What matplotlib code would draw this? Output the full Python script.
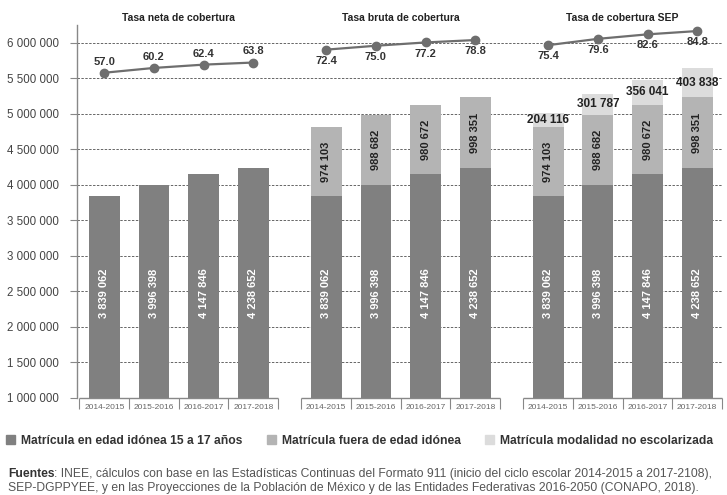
import matplotlib
matplotlib.use("Agg")
import matplotlib.pyplot as plt
import matplotlib.ticker as mticker
from matplotlib.patches import Patch
import numpy as np

plt.rcParams['font.family'] = ['Liberation Sans', 'DejaVu Sans']

# ---- data ----
group_titles = ["Tasa neta de cobertura", "Tasa bruta de cobertura", "Tasa de cobertura SEP"]
years = ["2014-2015", "2015-2016", "2016-2017", "2017-2018"]
idonea = [3839062, 3996398, 4147846, 4238652]
fuera = [974103, 988682, 980672, 998351]
no_escolarizada = [204116, 301787, 356041, 403838]
tasa_neta = [57.0, 60.2, 62.4, 63.8]
tasa_bruta = [72.4, 75.0, 77.2, 78.8]
tasa_sep = [75.4, 79.6, 82.6, 84.8]
legend_labels = ["Matrícula en edad idónea 15 a 17 años",
                 "Matrícula fuera de edad idónea",
                 "Matrícula modalidad no escolarizada"]

c_main = "#808080"
c_fuera = "#b4b4b4"
c_noesc = "#dcdcdc"
c_line = "#6e6e6e"
txt = "#333333"

def fmt(v):
    return f"{v:,}".replace(",", " ")

W, H = 727, 495
fig = plt.figure(figsize=(W / 100, H / 100), dpi=100)
ax_left, ax_right, ax_bot, ax_top = 77, 722, 398, 25.2
ax = fig.add_axes([ax_left / W, 1 - ax_bot / H, (ax_right - ax_left) / W, (ax_bot - ax_top) / H])

goff = 4.47
bw = 0.62
n = len(years)
ymin, ymax = 1_000_000, 6_250_000
ax.set_xlim(-0.55, 12.3)
ax.set_ylim(ymin, ymax)

# gridlines
yt = np.arange(1_000_000, 6_000_001, 500_000)
ax.set_yticks(yt)
ax.yaxis.set_major_formatter(mticker.FuncFormatter(lambda v, p: fmt(int(v))))
for y in yt[1:]:
    ax.axhline(y, color="#666666", lw=0.7, ls=(0, (2.5, 1.5)), zorder=0.5)

rates = [tasa_neta, tasa_bruta, tasa_sep]
xall_tick, lab_tick, seps = [], [], []
for g in range(3):
    xs = np.arange(n) + g * goff
    ax.bar(xs, [v - ymin for v in idonea], bw, bottom=ymin, color=c_main, zorder=2)
    for x, v in zip(xs, idonea):
        ax.text(x, 2_480_000, fmt(v), rotation=90, ha="center", va="center",
                color="white", fontsize=8, fontweight="bold", zorder=5)
    if g >= 1:
        ax.bar(xs, fuera, bw, bottom=idonea, color=c_fuera, zorder=2)
        for x, b, v in zip(xs, idonea, fuera):
            ax.text(x, b + v / 2, fmt(v), rotation=90, ha="center", va="center",
                    color="#222222", fontsize=8, fontweight="bold", zorder=5)
    if g == 2:
        bots = [a + b for a, b in zip(idonea, fuera)]
        ax.bar(xs, no_escolarizada, bw, bottom=bots, color=c_noesc, zorder=2)
        for x, b, v in zip(xs, bots, no_escolarizada):
            ax.text(x, b + v / 2, fmt(v), ha="center", va="center",
                    color="#222222", fontsize=8.5, fontweight="bold", zorder=5)
    xall_tick += list(xs)
    lab_tick += years
    seps += list(np.arange(n + 1) + g * goff - 0.5)
    # baseline segment
    ax.plot([max(g * goff - 0.5, -0.55), g * goff + n - 0.5], [ymin, ymin],
            color="#888888", lw=1, zorder=3, clip_on=False, solid_capstyle="butt")
    # group title
    ax.text(g * goff + (n - 1) / 2, 1.02, group_titles[g], transform=ax.get_xaxis_transform(),
            ha="center", va="center", fontsize=7.5, fontweight="bold", color="#222222")

ax.set_xticks(xall_tick)
ax.set_xticklabels(lab_tick, fontsize=6, color="#666666")
ax.set_xticks(seps, minor=True)
ax.tick_params(axis="x", which="major", length=0, pad=4)
ax.tick_params(axis="x", which="minor", length=8, color="#888888", width=0.8)
ax.tick_params(axis="y", length=5, color="#888888", labelsize=8.3, labelcolor="#444444", pad=8)
for s in ["top", "right", "bottom"]:
    ax.spines[s].set_visible(False)
ax.spines["left"].set_color("#888888")
ax.spines["left"].set_linewidth(1)

# rate lines on twin axis
ax2 = ax.twinx()
ax2.set_ylim(-159.9, 88.7)
ax2.axis("off")
for g in range(3):
    xs = np.arange(n) + g * goff
    ax2.plot(xs, rates[g], color=c_line, lw=1.6, marker="o", ms=6, zorder=6, clip_on=False)
    for x, r in zip(xs, rates[g]):
        off = 8 if g == 0 else -8
        ax2.annotate(f"{r:.1f}", (x, r), xytext=(0, off), textcoords="offset points",
                     ha="center", va="center", fontsize=8, fontweight="bold", color=txt)

# legend
handles = [Patch(color=c) for c in (c_main, c_fuera, c_noesc)]
fig.legend(handles, legend_labels, loc="center left", bbox_to_anchor=(6 / W, 1 - 441 / H),
           ncol=3, frameon=False, handlelength=0.75, handleheight=0.75, handletextpad=0.5,
           columnspacing=2.0, prop={"weight": "bold", "size": 8.7}, labelcolor=txt,
           borderaxespad=0, borderpad=0.0)

# sources
fs = 8.7
y1 = 1 - 474 / H
t = fig.text(8 / W, y1, "Fuentes", fontsize=fs, fontweight="bold", color="#333333", va="center")
fig.canvas.draw()
bb = t.get_window_extent()
fig.text(bb.x1 / W, y1,
         ": INEE, cálculos con base en las Estadísticas Continuas del Formato 911 (inicio del ciclo escolar 2014-2015 a 2017-2108),",
         fontsize=fs, color="#555555", va="center")
fig.text(8 / W, 1 - 488 / H,
         "SEP-DGPPYEE, y en las Proyecciones de la Población de México y de las Entidades Federativas 2016-2050 (CONAPO, 2018).",
         fontsize=fs, color="#555555", va="center")

fig.savefig("out.png", dpi=100)
